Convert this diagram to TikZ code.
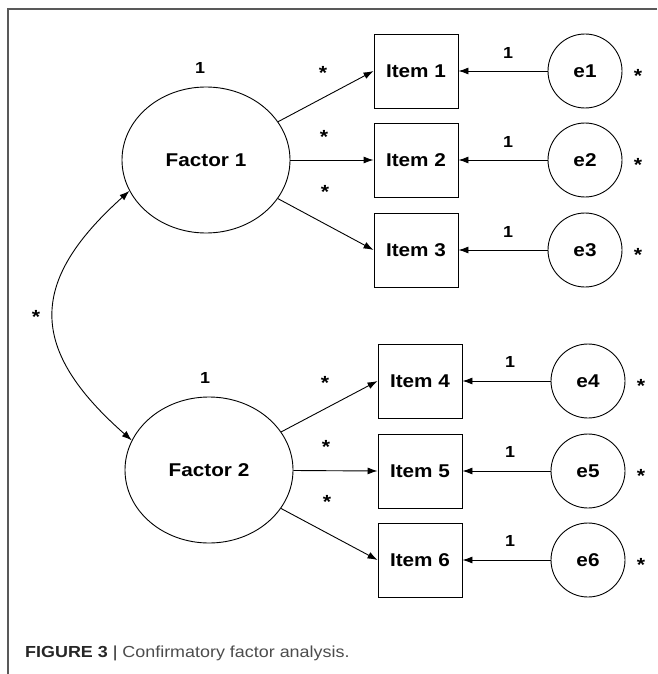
\documentclass[tikz,border=0pt]{standalone}
\usepackage{fontspec}
\setmainfont{Liberation Sans}[FakeStretch=1.12]
\usetikzlibrary{shapes.geometric,arrows.meta}

\tikzset{
  latent/.style={ellipse, draw, line width=0.9pt, minimum width=168pt, minimum height=146pt,
    inner sep=0pt, font=\bfseries\fontsize{18.5}{20}\selectfont},
  observed/.style={rectangle, draw, line width=0.9pt, minimum width=84pt, minimum height=74pt,
    inner sep=0pt, font=\bfseries\fontsize{18.5}{20}\selectfont},
  resid/.style={circle, draw, line width=0.9pt, minimum size=74pt,
    inner sep=0pt, font=\bfseries\fontsize{18.5}{20}\selectfont},
  load/.style={-{Latex[length=10pt,width=7pt]}, line width=0.9pt},
  one/.style={inner sep=0pt, font=\bfseries\fontsize{16}{16}\selectfont},
  star/.style={inner sep=0pt, font=\bfseries\fontsize{19}{19}\selectfont},
}

\begin{document}
\begin{tikzpicture}[x=1pt, y=-1pt]
    \useasboundingbox (0,0) rectangle (657,674);

    % Rahmen (oben und links)
    \draw[black!65, line width=1.3pt] (657,9) -- (8,9) -- (8,674);

    % Faktoren
    \node[latent] (f1) at (206,160) {Factor 1};
    \node[latent] (f2) at (209,470) {Factor 2};
    \node[one] (v1) at (200,68) {1};
    \node[one] (v2) at (205,378) {1};

    % Items und Fehlerterme, erste Gruppe
    \foreach \i/\y/\s in {1/71/68, 2/160/132, 3/250/187} {
        \node[observed] (it\i) at (416,\y) {Item \i};
        \node[resid] (e\i) at (585,\y) {e\i};
        \draw[load] (f1) -- (it\i.west);
        \draw[load] (e\i) -- (it\i);
        \node[one] (w\i) at (508,\y-18) {1};
        \node[star] (s\i) at (638,\y+5) {*};
        \node[star] (l\i) at (322+\i,\s+5) {*};
    }

    % zweite Gruppe
    \foreach \i/\y/\s in {4/381/378, 5/471/442, 6/560/497} {
        \node[observed] (it\i) at (420,\y) {Item \i};
        \node[resid] (e\i) at (588,\y) {e\i};
        \draw[load] (f2) -- (it\i.west);
        \draw[load] (e\i) -- (it\i);
        \node[one] (w\i) at (510,\y-19) {1};
        \node[star] (s\i) at (641,\y+5) {*};
        \node[star] (l\i) at (321+\i,\s+5) {*};
    }

    % Kovarianz der Faktoren
    \draw[load, {Latex[length=10pt,width=7pt]}-{Latex[length=10pt,width=7pt]}]
        (f1.202) .. controls (28,282) and (28,349) .. (f2.159);
    \node[star] (cov) at (36,317) {*};

    % Bildunterschrift
    \node[anchor=west, inner sep=0pt, font=\fontsize{16}{18}\selectfont] (cap) at (25,653)
        {\textcolor{black!85}{\bfseries FIGURE 3 }\textcolor{black!85}{|} \textcolor{black!70}{Confirmatory factor analysis.}};
\end{tikzpicture}
\end{document}
